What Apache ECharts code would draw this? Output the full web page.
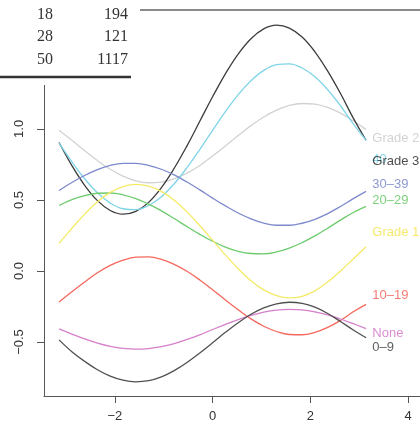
<!DOCTYPE html>
<html>
<head>
<meta charset="utf-8">
<script src="https://cdn.jsdelivr.net/npm/echarts@6/dist/echarts.min.js"></script>
<style>html,body{margin:0;padding:0;background:#fff}#c{width:420px;height:428px}</style>
</head>
<body>
<div id="c"></div>
<script>
// x sample positions (radians, step pi/12)
var xs = [-3.1416, -2.8798, -2.618, -2.3562, -2.0944, -1.8326, -1.5708, -1.309, -1.0472, -0.7854, -0.5236, -0.2618, 0,
          0.2618, 0.5236, 0.7854, 1.0472, 1.309, 1.5708, 1.8326, 2.0944, 2.3562, 2.618, 2.8798, 3.1416];

var seriesNames = ['Grade 2', 'Grade 3', '40', '30–39', '20–29', 'Grade 1', '10–19', 'None', '0–9'];
var grade2 = [0.991, 0.920, 0.847, 0.777, 0.716, 0.668, 0.635, 0.621, 0.625, 0.648, 0.689, 0.743, 0.809,
              0.880, 0.953, 1.023, 1.084, 1.132, 1.165, 1.179, 1.175, 1.152, 1.111, 1.057, 0.995];
var grade3 = [0.904, 0.742, 0.603, 0.495, 0.426, 0.400, 0.420, 0.483, 0.587, 0.723, 0.881, 1.054, 1.226,
              1.388, 1.527, 1.635, 1.704, 1.730, 1.710, 1.647, 1.543, 1.407, 1.249, 1.076, 0.920];
var age40 = [0.900, 0.769, 0.649, 0.550, 0.478, 0.438, 0.432, 0.461, 0.523, 0.614, 0.727, 0.855, 0.990,
             1.121, 1.241, 1.339, 1.412, 1.452, 1.458, 1.429, 1.367, 1.276, 1.163, 1.035, 0.920];
var age30 = [0.567, 0.623, 0.672, 0.713, 0.743, 0.758, 0.758, 0.744, 0.716, 0.676, 0.626, 0.571, 0.513,
             0.458, 0.408, 0.367, 0.337, 0.322, 0.322, 0.336, 0.364, 0.404, 0.454, 0.509, 0.560];
var age20 = [0.461, 0.502, 0.531, 0.547, 0.549, 0.536, 0.509, 0.470, 0.423, 0.369, 0.312, 0.258, 0.209,
             0.168, 0.138, 0.123, 0.121, 0.134, 0.161, 0.200, 0.247, 0.301, 0.358, 0.412, 0.455];
var grade1 = [0.195, 0.300, 0.400, 0.488, 0.553, 0.594, 0.610, 0.598, 0.560, 0.498, 0.416, 0.320, 0.217,
              0.113, 0.016, -0.068, -0.133, -0.174, -0.190, -0.178, -0.140, -0.078, 0.000, 0.085, 0.170];
var age10 = [-0.218, -0.146, -0.077, -0.013, 0.039, 0.076, 0.097, 0.099, 0.082, 0.047, -0.002, -0.063, -0.132,
             -0.204, -0.273, -0.337, -0.389, -0.426, -0.447, -0.449, -0.432, -0.397, -0.348, -0.287, -0.235];
var none = [-0.408, -0.444, -0.478, -0.507, -0.530, -0.545, -0.550, -0.546, -0.533, -0.511, -0.482, -0.449, -0.412,
            -0.376, -0.342, -0.313, -0.290, -0.275, -0.270, -0.274, -0.288, -0.309, -0.338, -0.371, -0.405];
var age0 = [-0.485, -0.568, -0.636, -0.695, -0.740, -0.769, -0.780, -0.772, -0.745, -0.701, -0.644, -0.577, -0.505,
            -0.432, -0.364, -0.305, -0.260, -0.231, -0.220, -0.228, -0.255, -0.299, -0.356, -0.415, -0.470];

// right-hand label anchors
var labelNames = ['Grade 2', '40', 'Grade 3', '30–39', '20–29', 'Grade 1', '10–19', 'None', '0–9'];
var labelX = [3.27, 3.27, 3.27, 3.27, 3.27, 3.27, 3.27, 3.27, 3.27];
var labelY = [0.93, 0.785, 0.77, 0.61, 0.50, 0.27, -0.17, -0.44, -0.54];

var xTicks = [-2, 0, 2, 4];
var yTicks = [-0.5, 0, 0.5, 1.0, 1.5];

// table rows at top
var tableCol1 = ['18', '28', '50'];
var tableCol2 = ['194', '121', '1117'];

var colors = {
  'Grade 2': '#d2d2d2',
  'Grade 3': '#3c3c3c',
  '40': '#80d4e8',
  '30–39': '#7d89cc',
  '20–29': '#6ccb6c',
  'Grade 1': '#f4ea66',
  '10–19': '#f4685e',
  'None': '#d67fcb',
  '0–9': '#505050'
};
var labelColors = {
  'Grade 2': '#c8c8c8',
  'Grade 3': '#222222',
  '40': '#6fcfe6',
  '30–39': '#6f7dc8',
  '20–29': '#5cc45c',
  'Grade 1': '#f2e44a',
  '10–19': '#f25a50',
  'None': '#d070c4',
  '0–9': '#333333'
};
var values = [grade2, grade3, age40, age30, age20, grade1, age10, none, age0];

function minus(s) { return String(s).replace('-', '\u2212'); }

var series = [];
values.forEach(function (arr, i) {
  var name = seriesNames[i];
  series.push({
    type: 'line',
    name: name,
    data: xs.map(function (x, j) { return [x, arr[j]]; }),
    smooth: 0.4,
    showSymbol: false,
    silent: true,
    lineStyle: { color: colors[name], width: 1.3 },
    z: 2
  });
});

series.push({
  type: 'scatter',
  symbolSize: 0,
  silent: true,
  z: 5,
  data: labelNames.map(function (n, i) {
    return {
      value: [labelX[i], labelY[i]],
      label: {
        show: true,
        position: 'right',
        distance: 0,
        formatter: n,
        color: labelColors[n],
        fontFamily: 'Liberation Sans, Arial, sans-serif',
        fontSize: 13
      }
    };
  })
});

var graphics = [
  { type: 'rect', z: 100, shape: { x: 0, y: 0, width: 139, height: 85 }, style: { fill: '#fff' } },
  { type: 'line', z: 101, shape: { x1: 140, y1: 10, x2: 420, y2: 10 }, style: { stroke: '#8a8a8a', lineWidth: 2 } },
  { type: 'line', z: 101, shape: { x1: 0, y1: 77, x2: 131, y2: 77 }, style: { stroke: '#333', lineWidth: 2.5 } }
];
var rowY = [15, 37, 60];
tableCol1.forEach(function (t, i) {
  graphics.push({ type: 'text', z: 102, style: { x: 53, y: rowY[i], text: t, align: 'right', verticalAlign: 'middle', fill: '#333', font: '16px "Liberation Serif", serif' } });
  graphics.push({ type: 'text', z: 102, style: { x: 128, y: rowY[i], text: tableCol2[i], align: 'right', verticalAlign: 'middle', fill: '#333', font: '16px "Liberation Serif", serif' } });
});

var chart = echarts.init(document.getElementById('c'), null, { renderer: 'canvas' });
chart.setOption({
  animation: false,
  backgroundColor: '#fff',
  grid: { left: 44, top: 11, right: 0, bottom: 32, containLabel: false },
  xAxis: {
    type: 'value', min: -3.45, max: 4.245,
    axisLine: { onZero: false, lineStyle: { color: '#555', width: 1 } },
    axisTick: { show: true, length: 7, lineStyle: { color: '#555' }, customValues: xTicks },
    axisLabel: { customValues: xTicks, margin: 14, color: '#333', fontSize: 13, fontFamily: 'Liberation Sans, Arial, sans-serif', formatter: function (v) { return minus(v); } },
    splitLine: { show: false }
  },
  yAxis: {
    type: 'value', min: -0.88, max: 1.83,
    axisLine: { show: true, onZero: false, lineStyle: { color: '#555', width: 1 } },
    axisTick: { show: true, length: 7, lineStyle: { color: '#555' }, customValues: yTicks },
    axisLabel: { customValues: yTicks, rotate: 90, margin: 18, color: '#333', fontSize: 13, fontFamily: 'Liberation Sans, Arial, sans-serif', formatter: function (v) { return minus(v.toFixed(1)); } },
    splitLine: { show: false }
  },
  graphic: graphics,
  series: series
});
</script>
</body>
</html>
